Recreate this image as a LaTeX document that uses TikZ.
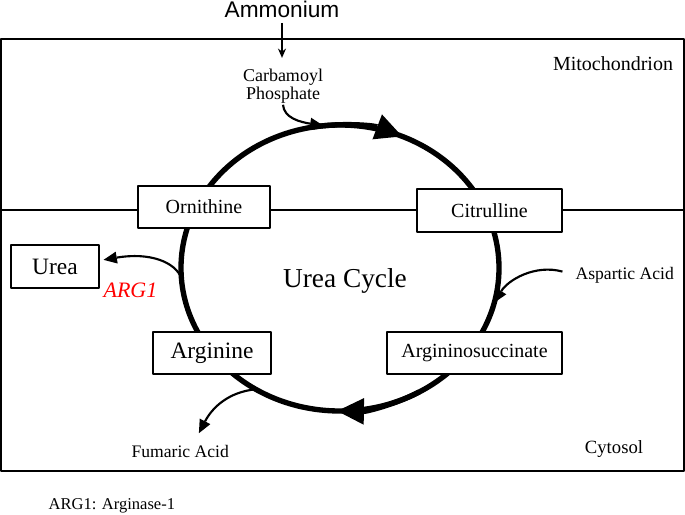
\documentclass[tikz,border=0pt]{standalone}
\usepackage{fontspec}
\setmainfont{Liberation Serif}
\newfontfamily\sansfont{Liberation Sans}
\usetikzlibrary{arrows.meta}

\begin{document}
\begin{tikzpicture}[x=0.75pt,y=-0.75pt,line join=round,
    box/.style={draw,line width=0.8pt,fill=white,inner sep=0pt,font=\fontsize{15}{18}\selectfont},
    bigbox/.style={box,font=\fontsize{17.6}{21}\selectfont},
    lbl/.style={inner sep=1pt,font=\fontsize{13.2}{16}\selectfont},
    cycle line/.style={line width=4pt},
    cycle arrow/.style={cycle line,-{Triangle[length=20pt,width=20pt,line width=0pt]}},
    feed/.style={line width=1.6pt,-{Triangle[length=10pt,width=9pt,line width=0pt]}}]

  \useasboundingbox (0,0) rectangle (685,514);

  % ---- compartimenti: cellula e membrana mitocondriale ----------------------
  \draw[line width=1.2pt] (1,39) rectangle (684,471);
  \draw[line width=1pt] (1,210) -- (684,210);

  % ---- il ciclo (ellisse spessa con due frecce) -----------------------------
  \coordinate (c) at (340,268);
  \draw[cycle line] (c) ellipse [x radius=159,y radius=143];
  \draw[cycle arrow] (c) ++(-100:159 and 143)
        arc[start angle=-100,end angle=-67,x radius=159,y radius=143];
  \draw[cycle arrow] (c) ++(60:159 and 143)
        arc[start angle=60,end angle=91,x radius=159,y radius=143];

  % punti d'attacco sul ciclo
  \path (c) ++(-96:159 and 143) coordinate (cp in);
  \path (c) ++(176:159 and 143) coordinate (urea out);
  \path (c) ++(14:159 and 143) coordinate (asp in);
  \path (c) ++(122:159 and 143) coordinate (fum out);

  % ---- metaboliti sul ciclo --------------------------------------------------
  \node[box,minimum width=99pt,minimum height=31.5pt] (orn) at (204,207) {Ornithine};
  \node[box,minimum width=108.75pt,minimum height=32.25pt] (cit) at (489.5,210.5) {Citrulline};
  \node[box,minimum width=131.25pt,minimum height=31.5pt] (asuc) at (474.5,353) {Argininosuccinate};
  \node[bigbox,minimum width=88.5pt,minimum height=31.5pt] (arg) at (212,353) {Arginine};
  \node[bigbox,minimum width=66pt,minimum height=32.25pt] (urea) at (55,266.5) {Urea};

  % ---- etichette --------------------------------------------------------------
  \node[lbl,anchor=base,font=\sansfont\fontsize{17}{20}\selectfont] (amm) at (282,17) {Ammonium};
  \node[lbl,align=center,font=\fontsize{13.5}{13.5}\selectfont] (carb) at (283,86) {Carbamoyl\\Phosphate};
  \node[lbl,anchor=base,font=\fontsize{15}{18}\selectfont] (mito) at (613,70) {Mitochondrion};
  \node[lbl,anchor=base,font=\fontsize{14}{17}\selectfont] (cyto) at (614,453) {Cytosol};
  \node[lbl,anchor=base,font=\fontsize{20.5}{24}\selectfont] (title) at (345,287) {Urea Cycle};
  \node[lbl,anchor=base west,text=red,font=\fontsize{16.5}{20}\selectfont\itshape] (enz) at (102,297) {ARG1};
  \node[lbl,anchor=base west] (asp) at (574,279) {Aspartic Acid};
  \node[lbl,anchor=base west] (fum) at (130,457) {Fumaric Acid};
  \node[lbl,anchor=base west,font=\fontsize{12.4}{15}\selectfont] (note) at (47,509) {ARG1: Arginase-1};

  % ---- frecce d'ingresso e d'uscita ------------------------------------------
  \draw[line width=1.1pt,-{Stealth[length=7pt,width=6pt]},shorten <=3pt,shorten >=7pt]
        (amm.south) -- (amm.south |- carb.north);
  \draw[feed] (carb.south) .. controls (284,118) and (300,122) .. (cp in);
  \draw[feed] (urea out) .. controls (175,262) and (150,252) .. ([xshift=3pt,yshift=5pt]urea.east);
  \draw[feed,shorten <=9pt] (asp.west) .. controls (535,264) and (508,280) .. (asp in);
  \draw[feed] (fum out) .. controls (228,392) and (212,408) .. ([xshift=14pt,yshift=7.5pt]fum.north);

\end{tikzpicture}
\end{document}
